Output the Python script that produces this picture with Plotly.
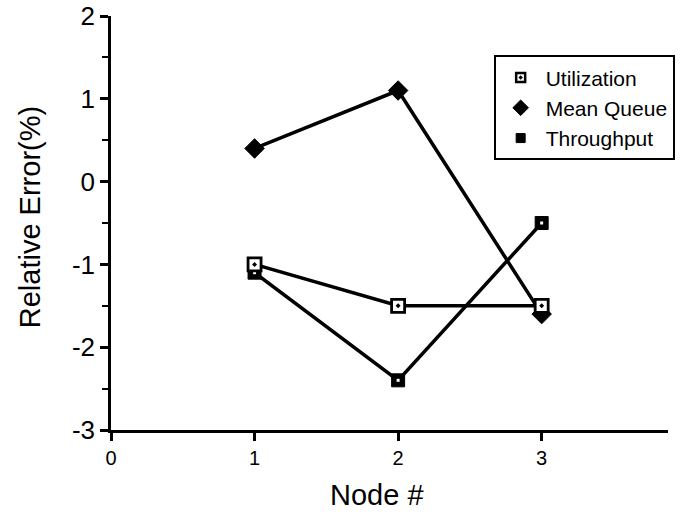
import plotly.graph_objects as go

nodes = [1, 2, 3]
utilization = [-1.0, -1.5, -1.5]
mean_queue = [0.4, 1.1, -1.6]
throughput = [-1.1, -2.4, -0.5]

x_ticks = [0, 1, 2, 3]
y_ticks = [-3, -2, -1, 0, 1, 2]

FONT = "Liberation Sans, Arial, sans-serif"

util_marker = dict(symbol="square-dot", size=13, color="white", line=dict(color="black", width=2.8))
queue_marker = dict(symbol="diamond", size=15, color="black", line=dict(color="black", width=1))
thr_marker = dict(symbol="square", size=13, color="black", line=dict(color="black", width=1))

fig = go.Figure()
# data lines (no legend)
fig.add_trace(go.Scatter(x=nodes, y=mean_queue, mode="lines+markers", showlegend=False,
                         line=dict(color="black", width=3.5), marker=queue_marker))
fig.add_trace(go.Scatter(x=nodes, y=throughput, mode="lines+markers", showlegend=False,
                         line=dict(color="black", width=3.5), marker=thr_marker))
fig.add_trace(go.Scatter(x=nodes, y=throughput, mode="markers", showlegend=False, hoverinfo="skip",
                         marker=dict(symbol="square", size=3, color="white", line=dict(width=0))))
fig.add_trace(go.Scatter(x=nodes, y=utilization, mode="lines+markers", showlegend=False,
                         line=dict(color="black", width=3.5), marker=util_marker))
# legend entries (markers only)
fig.add_trace(go.Scatter(x=[None], y=[None], mode="markers", name="Utilization",
                         marker=dict(symbol="square-dot", size=9, color="white", line=dict(color="black", width=2.5))))
fig.add_trace(go.Scatter(x=[None], y=[None], mode="markers", name="Mean Queue",
                         marker=dict(symbol="diamond", size=12, color="black", line=dict(color="black", width=1))))
fig.add_trace(go.Scatter(x=[None], y=[None], mode="markers", name="Throughput",
                         marker=dict(symbol="square", size=9, color="black", line=dict(color="black", width=1))))

fig.update_layout(
    width=681, height=516,
    margin=dict(l=111, r=13, t=16, b=86, autoexpand=False),
    paper_bgcolor="white", plot_bgcolor="white",
    font=dict(family=FONT, color="black"),
    showlegend=True,
    legend=dict(
        x=0.687, y=0.905, xanchor="left", yanchor="top",
        bordercolor="black", borderwidth=2, bgcolor="white",
        font=dict(size=21), traceorder="normal",
        itemsizing="trace", itemwidth=40, tracegroupgap=0,
    ),
    xaxis=dict(
        range=[0, 3.88], tickvals=x_ticks, ticktext=[str(v) for v in x_ticks],
        showgrid=False, zeroline=False, showline=True, linecolor="black", linewidth=2.5,
        ticks="outside", ticklen=8, tickwidth=2.5, tickcolor="black",
        tickfont=dict(size=20), automargin=False, ticklabeloverflow="allow",
    ),
    yaxis=dict(
        range=[-3, 2], tickvals=y_ticks, ticktext=[str(v) for v in y_ticks],
        showgrid=False, zeroline=False, showline=True, linecolor="black", linewidth=2.5,
        ticks="outside", ticklen=8, tickwidth=2.5, tickcolor="black",
        minor=dict(dtick=0.5, ticks="outside", ticklen=6, tickwidth=2, tickcolor="black", showgrid=False),
        tickfont=dict(size=26), automargin=False, ticklabeloverflow="allow",
    ),
    annotations=[
        dict(text="Relative Error(%)", xref="paper", yref="paper", x=-0.1454, y=0.514,
             textangle=-90, showarrow=False, xanchor="center", yanchor="middle",
             font=dict(size=29, family=FONT)),
        dict(text="Node #", xref="paper", yref="paper", x=0.4776, y=-0.157,
             showarrow=False, xanchor="center", yanchor="middle",
             font=dict(size=29, family=FONT)),
    ],
)

fig.write_html("out.html", config={"displayModeBar": False},
               post_script="document.body.style.margin='0';")
